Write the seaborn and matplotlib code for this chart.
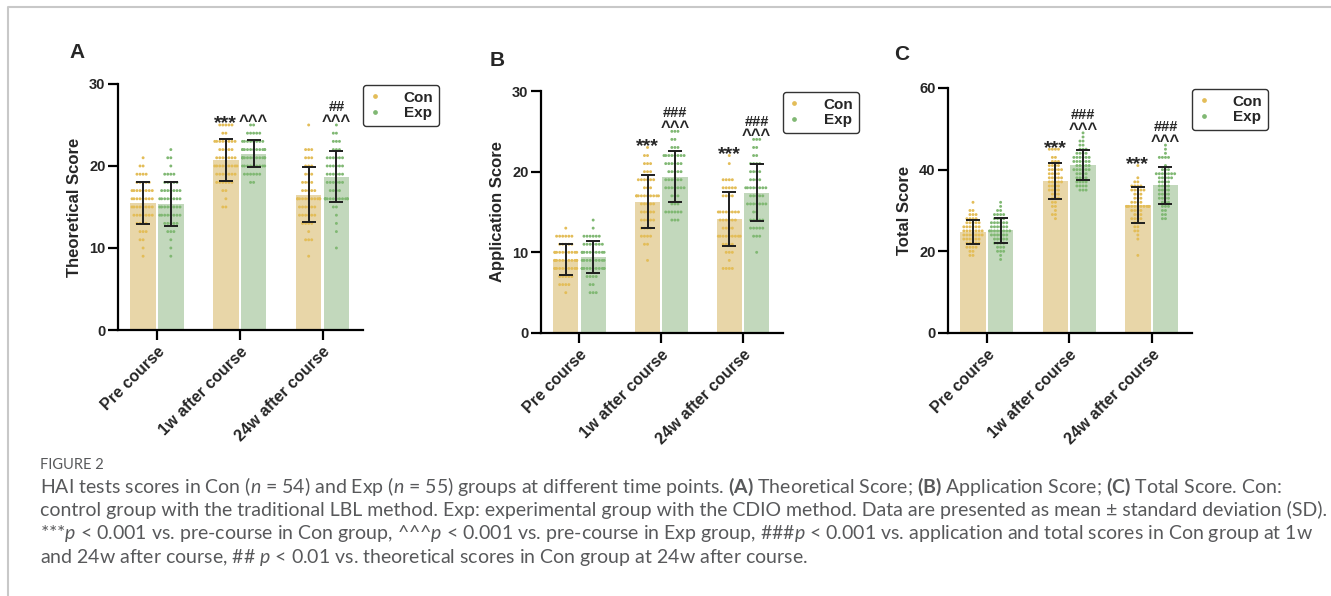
import numpy as np
import pandas as pd
import matplotlib
matplotlib.use('Agg')
import matplotlib.pyplot as plt
import seaborn as sns
from matplotlib.lines import Line2D

times = ['Pre course', '1w after course', '24w after course']
groups = ['Con', 'Exp']

# bar heights and SD
theo_con_mean = [15.5, 20.7, 16.5]
theo_con_sd = [2.6, 2.55, 3.35]
theo_exp_mean = [15.4, 21.5, 18.7]
theo_exp_sd = [2.7, 1.65, 3.15]
appl_con_mean = [9.1, 16.3, 14.1]
appl_con_sd = [1.9, 3.25, 3.35]
appl_exp_mean = [9.4, 19.4, 17.4]
appl_exp_sd = [2.0, 3.15, 3.55]
total_con_mean = [24.7, 37.2, 31.3]
total_con_sd = [3.0, 4.35, 4.45]
total_exp_mean = [25.2, 41.1, 36.2]
total_exp_sd = [3.05, 3.6, 4.5]

# individual scores, {score: number of students}
theo_con_pre = {21: 1, 20: 2, 19: 4, 18: 5, 17: 8, 16: 8, 15: 8, 14: 7, 13: 4, 12: 3, 11: 2, 10: 1, 9: 1}
theo_con_1w = {25: 5, 24: 2, 23: 8, 22: 5, 21: 7, 20: 9, 19: 7, 18: 6, 17: 2, 16: 1, 15: 2}
theo_con_24w = {25: 1, 22: 3, 21: 3, 20: 3, 19: 3, 18: 4, 17: 5, 16: 11, 15: 6, 14: 6, 13: 4, 12: 1, 11: 3, 9: 1}
theo_exp_pre = {22: 1, 21: 2, 20: 1, 19: 4, 18: 5, 17: 7, 16: 8, 15: 8, 14: 8, 13: 5, 12: 3, 11: 1, 10: 1, 9: 1}
theo_exp_1w = {25: 2, 24: 5, 23: 8, 22: 11, 21: 12, 20: 9, 19: 6, 18: 2}
theo_exp_24w = {25: 1, 24: 2, 23: 3, 22: 3, 21: 6, 20: 6, 19: 6, 18: 6, 17: 4, 16: 12, 15: 2, 14: 1, 13: 1, 12: 1, 10: 1}

appl_con_pre = {13: 1, 12: 6, 11: 5, 10: 10, 9: 12, 8: 10, 7: 5, 6: 4, 5: 1}
appl_con_1w = {23: 1, 22: 2, 21: 3, 20: 3, 19: 6, 18: 3, 17: 10, 16: 5, 15: 5, 14: 5, 13: 4, 12: 4, 11: 2, 9: 1}
appl_con_24w = {22: 1, 21: 1, 19: 4, 18: 5, 17: 4, 15: 8, 14: 6, 13: 4, 12: 9, 11: 4, 10: 3, 9: 1, 8: 4}
appl_exp_pre = {14: 1, 13: 1, 12: 6, 11: 7, 10: 10, 9: 9, 8: 12, 7: 4, 6: 2, 5: 3}
appl_exp_1w = {25: 3, 24: 2, 23: 3, 22: 8, 21: 6, 20: 5, 19: 6, 18: 7, 17: 3, 16: 3, 15: 6, 14: 3}
appl_exp_24w = {24: 3, 23: 2, 22: 2, 21: 4, 20: 4, 19: 4, 18: 8, 17: 5, 16: 7, 15: 2, 14: 5, 13: 5, 12: 3, 10: 1}

total_con_pre = {32: 1, 30: 2, 29: 3, 28: 4, 27: 5, 26: 6, 25: 7, 24: 7, 23: 6, 22: 5, 21: 4, 20: 2, 19: 2}
total_con_1w = {45: 4, 43: 2, 42: 3, 41: 4, 40: 5, 39: 4, 38: 5, 37: 5, 36: 4, 35: 4, 34: 3, 33: 3, 32: 2,
                31: 2, 30: 1, 29: 2, 28: 1}
total_con_24w = {41: 1, 38: 1, 37: 2, 36: 4, 35: 5, 34: 3, 33: 3, 32: 4, 31: 11, 30: 4, 29: 3, 28: 4, 27: 2,
                 26: 2, 25: 2, 24: 1, 23: 1, 19: 1}
total_exp_pre = {32: 1, 31: 1, 30: 2, 29: 4, 28: 4, 27: 6, 26: 6, 25: 8, 24: 6, 23: 5, 22: 4, 21: 3, 20: 3,
                 19: 1, 18: 1}
total_exp_1w = {49: 1, 48: 1, 47: 2, 46: 2, 45: 3, 44: 4, 43: 6, 42: 6, 41: 5, 40: 6, 39: 4, 38: 4, 37: 4,
                36: 4, 35: 3}
total_exp_24w = {46: 1, 45: 1, 44: 1, 43: 4, 41: 1, 40: 3, 39: 7, 38: 5, 37: 4, 36: 4, 35: 4, 34: 4, 33: 4,
                 32: 3, 31: 3, 30: 2, 29: 2, 28: 2}

# significance marks: (time index, group, marks from bottom to top)
theo_marks = [(1, 'Con', ['***']), (1, 'Exp', ['^^^']), (2, 'Exp', ['^^^', '##'])]
appl_marks = [(1, 'Con', ['***']), (1, 'Exp', ['^^^', '###']), (2, 'Con', ['***']), (2, 'Exp', ['^^^', '###'])]
total_marks = [(1, 'Con', ['***']), (1, 'Exp', ['^^^', '###']), (2, 'Con', ['***']), (2, 'Exp', ['^^^', '###'])]

bar_colors = {'Con': '#F2DB9E', 'Exp': '#BFDDB7'}
dot_colors = {'Con': '#E3BD58', 'Exp': '#80B873'}
hue_shift = {'Con': -0.1675, 'Exp': 0.1675}
# glyph size and baseline offset (points) for each kind of mark
mark_style = {'*': (14, -2.5), '^': (12, -0.5), '#': (10.5, 10.0)}


def build_panel(con_dots, exp_dots, con_mean, con_sd, exp_mean, exp_sd):
    dot_rows, bar_rows = [], []
    for g, dots, means, sds in [('Con', con_dots, con_mean, con_sd), ('Exp', exp_dots, exp_mean, exp_sd)]:
        for i, counts in enumerate(dots):
            x = i + hue_shift[g]
            bar_rows.append({'xpos': x, 'group': g, 'mean': means[i], 'sd': sds[i]})
            for score, n in counts.items():
                dot_rows += [{'xpos': x, 'group': g, 'score': score}] * n
    return pd.DataFrame(dot_rows), pd.DataFrame(bar_rows)


panels = [
    dict(letter='A', ylabel='Theoretical Score', ymax=30, yticks=[0, 10, 20, 30], marks=theo_marks,
         con=[theo_con_pre, theo_con_1w, theo_con_24w], exp=[theo_exp_pre, theo_exp_1w, theo_exp_24w],
         stats=(theo_con_mean, theo_con_sd, theo_exp_mean, theo_exp_sd),
         rect=[0.0887, 0.4463, 0.1841, 0.4128], letter_xy=(77, 52)),
    dict(letter='B', ylabel='Application Score', ymax=30, yticks=[0, 10, 20, 30], marks=appl_marks,
         con=[appl_con_pre, appl_con_1w, appl_con_24w], exp=[appl_exp_pre, appl_exp_1w, appl_exp_24w],
         stats=(appl_con_mean, appl_con_sd, appl_exp_mean, appl_exp_sd),
         rect=[0.4065, 0.4413, 0.1818, 0.4060], letter_xy=(497, 60)),
    dict(letter='C', ylabel='Total Score', ymax=60, yticks=[0, 20, 40, 60], marks=total_marks,
         con=[total_con_pre, total_con_1w, total_con_24w], exp=[total_exp_pre, total_exp_1w, total_exp_24w],
         stats=(total_con_mean, total_con_sd, total_exp_mean, total_exp_sd),
         rect=[0.7123, 0.4413, 0.1833, 0.4111], letter_xy=(902, 55)),
]

sns.set_style('ticks')
plt.rcParams['font.family'] = ['Liberation Sans', 'DejaVu Sans']
plt.rcParams['mathtext.fontset'] = 'custom'
plt.rcParams['mathtext.rm'] = 'Lato'
plt.rcParams['mathtext.it'] = 'Lato:italic'
plt.rcParams['mathtext.bf'] = 'Lato:bold'

W, H = 1331, 596
fig = plt.figure(figsize=(W / 100, H / 100), dpi=100)

for p in panels:
    ax = fig.add_axes(p['rect'])
    dots, bars = build_panel(p['con'], p['exp'], *p['stats'])

    sns.barplot(data=bars, x='xpos', y='mean', hue='group', hue_order=groups, palette=bar_colors,
                native_scale=True, dodge=False, width=0.925, errorbar=None, legend=False,
                linewidth=0, ax=ax, zorder=1)
    sns.swarmplot(data=dots, x='xpos', y='score', hue='group', hue_order=groups, palette=dot_colors,
                  native_scale=True, dodge=False, size=2.1, linewidth=0, legend=False, ax=ax,
                  zorder=2, warn_thresh=1)
    ax.errorbar(bars['xpos'], bars['mean'], yerr=bars['sd'], fmt='none', ecolor='#1e1e1e',
                elinewidth=1.4, capsize=4.7, capthick=1.4, zorder=3)

    # significance marks above the highest dot of each group
    dot_sets = {'Con': p['con'], 'Exp': p['exp']}
    for i, g, labels in p['marks']:
        top = max(dot_sets[g][i].keys())
        for lab in labels:
            fs, dy = mark_style[lab[0]]
            ax.annotate(lab, xy=(i + hue_shift[g], top), xytext=(0, dy), textcoords='offset points',
                        ha='center', va='baseline', fontsize=fs, fontweight='bold', annotation_clip=False)

    ax.set_xlim(-0.47, 2.49)
    ax.set_ylim(0, p['ymax'])
    ax.set_yticks(p['yticks'])
    ax.set_xticks(range(len(times)))
    ax.set_xticklabels(times, rotation=45, ha='right', rotation_mode='anchor', fontweight='bold', fontsize=11.5)
    for lab in ax.get_yticklabels():
        lab.set_fontweight('bold')
    ax.set_xlabel('')
    ax.set_ylabel(p['ylabel'], fontweight='bold', fontsize=12, labelpad=5)
    sns.despine(ax=ax)
    for side in ['left', 'bottom']:
        ax.spines[side].set_linewidth(1.6)
        ax.spines[side].set_color('black')
    ax.tick_params(axis='both', length=7, width=1.6, color='black', labelsize=10.5, pad=2)
    ax.tick_params(axis='x', labelsize=11.5, pad=3)

    handles = [Line2D([], [], marker='o', ls='none', markersize=2.4, color=dot_colors[g]) for g in groups]
    leg = ax.legend(handles, groups, loc='upper left', bbox_to_anchor=(1.0, 0.995), borderaxespad=0,
                    frameon=True, fancybox=True, edgecolor='#333333', framealpha=1,
                    prop={'weight': 'bold', 'size': 11}, handlelength=0.8, handletextpad=1.5,
                    labelspacing=0.12, borderpad=0.35)
    leg.get_frame().set_linewidth(1.0)

    fig.text(p['letter_xy'][0] / W, 1 - p['letter_xy'][1] / H, p['letter'], fontsize=15,
             fontweight='bold', ha='center', va='center')

# caption
cap_color = '#58595b'
fig.text(40 / W, 1 - 465 / H, 'FIGURE 2', fontsize=10.5, color=cap_color, family='Lato', va='center')
caption_lines = [
    r'HAI tests scores in Con ($\mathit{n}$ = 54) and Exp ($\mathit{n}$ = 55) groups at different time points. '
    r'$\mathbf{(A)}$ Theoretical Score; $\mathbf{(B)}$ Application Score; $\mathbf{(C)}$ Total Score. Con:',
    'control group with the traditional LBL method. Exp: experimental group with the CDIO method. '
    'Data are presented as mean \u00b1 standard deviation (SD).',
    r'***$\mathit{p}$ < 0.001 vs. pre-course in Con group, ^^^$\mathit{p}$ < 0.001 vs. pre-course in Exp group, '
    r'###$\mathit{p}$ < 0.001 vs. application and total scores in Con group at 1w',
    r'and 24w after course, ## $\mathit{p}$ < 0.01 vs. theoretical scores in Con group at 24w after course.',
]
for line, yc in zip(caption_lines, [487, 510, 533, 557]):
    fig.text(40 / W, 1 - yc / H, line, fontsize=14, color=cap_color, family='Lato', va='center')

# page frame
fig.add_artist(Line2D([8 / W, 8 / W, 1.0], [0.0, 1 - 7 / H, 1 - 7 / H], transform=fig.transFigure,
                      color='#c8c8c8', lw=1.5))

fig.savefig('out.png', dpi=100)
